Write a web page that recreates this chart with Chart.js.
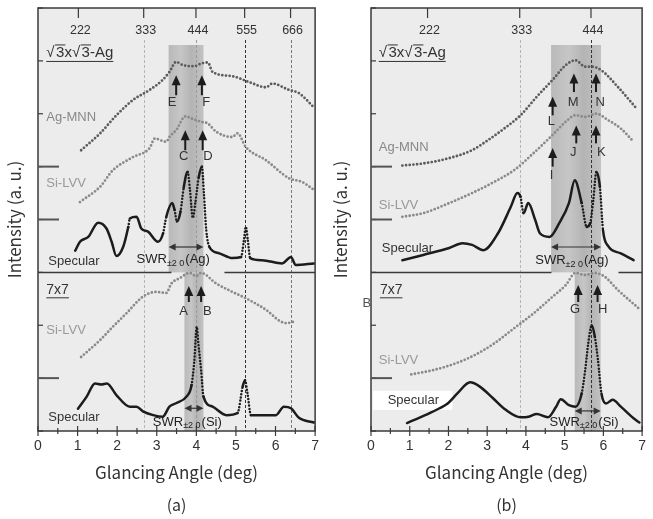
<!DOCTYPE html>
<html>
<head>
<meta charset="utf-8">
<script src="https://cdn.jsdelivr.net/npm/chart.js@4.4.0/dist/chart.umd.min.js"></script>
<style>
  html, body { margin: 0; padding: 0; background: #fff; }
  #wrap { position: relative; width: 653px; height: 519px; }
  #chartA { position: absolute; left: 0; top: 0; }
  #chartB { position: absolute; left: 326px; top: 0; }
</style>
</head>
<body>
<div id="wrap">
  <canvas id="chartA" width="326" height="519"></canvas>
  <canvas id="chartB" width="327" height="519"></canvas>
</div>
<script>
// ---- data (a) : sqrt3 x sqrt3-Ag (top) and 7x7 (bottom) ----
const aAgMnnX = [1.09, 1.57, 1.98, 2.40, 2.82, 3.15, 3.32, 3.49, 3.66, 3.95, 4.12, 4.29, 4.41, 4.91, 5.33, 5.76, 5.92, 6.34, 6.59, 6.97];
const aAgMnnY = [5.31, 5.63, 5.97, 6.26, 6.45, 6.64, 6.79, 6.98, 6.92, 6.90, 6.95, 6.97, 6.79, 6.71, 6.60, 6.50, 6.57, 6.45, 6.39, 6.12];

const aSiTopX = [1.06, 1.57, 1.89, 2.40, 2.82, 2.95, 3.24, 3.32, 3.50, 3.72, 3.91, 4.16, 4.28, 4.50, 4.91, 5.04, 5.25, 5.76, 6.34, 6.67, 6.97];
const aSiTopY = [4.33, 4.62, 4.93, 5.18, 5.35, 5.53, 5.47, 5.56, 5.70, 5.95, 5.90, 5.84, 5.82, 5.66, 5.56, 5.63, 5.37, 5.12, 4.78, 4.71, 4.56];

const aSpecTopX = [0.94, 1.06, 1.27, 1.52, 1.73, 1.86, 1.98, 2.15, 2.28, 2.32, 2.49, 2.61, 2.78, 3.03, 3.16, 3.24, 3.39, 3.45, 3.51, 3.60, 3.68, 3.78, 3.84, 3.91, 3.98, 4.06, 4.14, 4.19, 4.25, 4.33, 4.58, 4.91, 5.13, 5.20, 5.25, 5.30, 5.36, 5.66, 6.17, 6.39, 6.51, 6.97];
const aSpecTopY = [3.41, 3.58, 3.67, 3.94, 3.83, 3.58, 3.31, 3.48, 3.86, 4.02, 4.05, 3.83, 3.77, 3.58, 3.74, 4.05, 4.31, 4.18, 3.96, 4.15, 4.60, 4.90, 4.55, 4.03, 4.35, 4.80, 5.00, 4.50, 3.80, 3.48, 3.36, 3.27, 3.29, 3.60, 3.86, 3.61, 3.27, 3.23, 3.17, 3.29, 3.14, 3.17];

const aSiBotX = [1.09, 1.57, 1.89, 2.24, 2.65, 2.99, 3.24, 3.37, 3.58, 3.83, 3.99, 4.12, 4.50, 4.91, 5.25, 5.76, 6.13, 6.29, 6.47];
const aSiBotY = [1.40, 1.72, 1.97, 2.23, 2.54, 2.63, 2.61, 2.79, 2.89, 2.99, 2.93, 2.99, 2.79, 2.63, 2.51, 2.29, 2.07, 2.04, 2.07];

const aSpecBotX = [1.01, 1.23, 1.44, 1.60, 1.74, 1.98, 2.32, 2.49, 2.65, 2.91, 3.15, 3.32, 3.50, 3.75, 3.88, 3.95, 4.01, 4.05, 4.12, 4.18, 4.41, 4.76, 5.04, 5.17, 5.23, 5.29, 5.38, 5.76, 6.01, 6.21, 6.39, 6.59, 6.97];
const aSpecBotY = [0.42, 0.65, 0.90, 0.88, 0.90, 0.68, 0.46, 0.46, 0.37, 0.30, 0.27, 0.46, 0.53, 0.65, 0.87, 1.34, 1.97, 1.66, 1.15, 0.65, 0.46, 0.30, 0.34, 0.84, 0.96, 0.72, 0.30, 0.30, 0.30, 0.46, 0.43, 0.25, 0.16];

// ---- data (b) ----
const bAgMnnX = [0.81, 1.35, 2.02, 2.61, 3.02, 3.44, 3.86, 4.28, 4.69, 5.03, 5.28, 5.53, 5.70, 5.95, 6.37, 6.82];
const bAgMnnY = [5.02, 5.06, 5.16, 5.31, 5.50, 5.72, 5.97, 6.32, 6.64, 6.92, 7.01, 6.89, 6.89, 6.82, 6.51, 6.13];

const bSiTopX = [0.81, 1.35, 2.02, 2.61, 3.18, 3.69, 4.19, 4.69, 5.03, 5.28, 5.53, 5.82, 6.12, 6.45, 6.78];
const bSiTopY = [4.05, 4.12, 4.31, 4.50, 4.71, 4.93, 5.25, 5.60, 5.85, 5.97, 5.94, 6.00, 5.88, 5.72, 5.47];

const bSpecTopX = [0.81, 1.35, 2.02, 2.36, 2.61, 2.90, 3.28, 3.61, 3.78, 3.86, 3.94, 4.06, 4.24, 4.36, 4.61, 4.86, 5.11, 5.26, 5.44, 5.57, 5.66, 5.74, 5.82, 5.91, 5.99, 6.12, 6.45, 6.78];
const bSpecTopY = [3.23, 3.33, 3.46, 3.55, 3.52, 3.42, 3.74, 4.24, 4.50, 4.43, 4.12, 4.31, 3.99, 3.74, 3.67, 3.93, 4.31, 4.74, 4.31, 3.86, 3.93, 4.37, 4.90, 4.62, 3.80, 3.50, 3.36, 3.23];

const bSiBotX = [1.04, 1.60, 2.19, 2.69, 3.19, 3.69, 4.19, 4.69, 5.03, 5.28, 5.53, 5.78, 6.03, 6.37, 6.91];
const bSiBotY = [1.07, 1.15, 1.28, 1.44, 1.66, 1.94, 2.22, 2.54, 2.76, 2.99, 2.95, 2.99, 2.92, 2.67, 2.32];

const bSpecBotX = [0.93, 1.40, 1.77, 1.98, 2.23, 2.56, 2.81, 3.15, 3.48, 3.86, 4.07, 4.28, 4.57, 4.78, 4.90, 5.11, 5.28, 5.44, 5.53, 5.61, 5.70, 5.78, 5.86, 5.95, 6.07, 6.24, 6.45, 6.78, 6.93];
const bSpecBotY = [0.15, 0.30, 0.43, 0.52, 0.71, 0.92, 0.84, 0.62, 0.40, 0.26, 0.27, 0.32, 0.26, 0.46, 0.60, 0.49, 0.46, 0.71, 1.15, 1.66, 2.00, 1.78, 1.34, 0.71, 0.52, 0.59, 0.46, 0.24, 0.16];

// top axis (Bragg indices) and y axis ticks
const aTopLabels = ['222', '333', '444', '555', '666'];
const aTopPos = [1.02, 2.67, 3.99, 5.22, 6.38];
const bTopLabels = ['222', '333', '444'];
const bTopPos = [1.46, 3.84, 5.68];
const yTicks = [0, 1, 2, 3, 4, 5, 6, 7, 8];
const markerTicks = [1, 4, 5];

const FONT = '"Liberation Sans", Arial, sans-serif';
const JFONT = '"Noto Sans CJK JP", "Noto Sans", sans-serif';

function pts(xs, ys) {
    return xs.map((x, i) => ({ x, y: ys[i] }));
}

// steep parts of the specular curves are drawn dotted, like the measured points
function steep(c) {
    const dx = c.p1.parsed.x - c.p0.parsed.x;
    const dy = c.p1.parsed.y - c.p0.parsed.y;
    return Math.abs(dy / dx) > 3.4;
}

function dotted(data, color) {
    return {
        data, borderColor: color, borderWidth: 2.8, borderDash: [0, 3.7],
        borderCapStyle: 'round', pointRadius: 0, cubicInterpolationMode: 'monotone', fill: false
    };
}

function specular(data) {
    return {
        data, borderColor: '#1c1c1c', borderWidth: 2.5, borderCapStyle: 'round',
        borderJoinStyle: 'round', pointRadius: 0, cubicInterpolationMode: 'monotone', fill: false,
        segment: { borderDash: c => steep(c) ? [0, 3.2] : undefined }
    };
}

function arrowUp(ctx, x, yTip, yTail) {
    ctx.strokeStyle = '#1c1c1c';
    ctx.fillStyle = '#1c1c1c';
    ctx.lineWidth = 2;
    ctx.beginPath();
    ctx.moveTo(x, yTail);
    ctx.lineTo(x, yTip + 6);
    ctx.stroke();
    ctx.beginPath();
    ctx.moveTo(x, yTip);
    ctx.lineTo(x - 4.5, yTip + 10);
    ctx.lineTo(x + 4.5, yTip + 10);
    ctx.closePath();
    ctx.fill();
}

function doubleArrow(ctx, x1, x2, y) {
    ctx.strokeStyle = '#333';
    ctx.fillStyle = '#333';
    ctx.lineWidth = 1.2;
    ctx.beginPath();
    ctx.moveTo(x1 + 3, y);
    ctx.lineTo(x2 - 3, y);
    ctx.stroke();
    [[x1, 1], [x2, -1]].forEach(([x, d]) => {
        ctx.beginPath();
        ctx.moveTo(x, y);
        ctx.lineTo(x + d * 7, y - 3.5);
        ctx.lineTo(x + d * 7, y + 3.5);
        ctx.closePath();
        ctx.fill();
    });
}

function swrText(ctx, x, y, tail) {
    ctx.fillStyle = '#222';
    ctx.textAlign = 'left';
    ctx.textBaseline = 'middle';
    ctx.font = '13px ' + FONT;
    ctx.fillText('SWR', x, y);
    let w = ctx.measureText('SWR').width;
    ctx.font = '9px ' + FONT;
    ctx.fillText('\u00b12 0', x + w, y + 4);
    w += ctx.measureText('\u00b12 0').width + 1;
    ctx.font = '13px ' + FONT;
    ctx.fillText(tail, x + w, y);
}

function rootLabel(ctx, x, y) {
    ctx.font = '15px ' + FONT;
    ctx.fillStyle = '#333';
    ctx.textAlign = 'left';
    ctx.textBaseline = 'middle';
    const parts = ['\u221a', '3x', '\u221a', '3-Ag'];
    let cx = x;
    ctx.strokeStyle = '#333';
    ctx.lineWidth = 1;
    parts.forEach((p, i) => {
        ctx.fillText(p, cx, y);
        const w = ctx.measureText(p).width;
        if (i === 1 || i === 3) {
            const w3 = ctx.measureText('3').width;
            ctx.beginPath();
            ctx.moveTo(cx - 1, y - 8);
            ctx.lineTo(cx + w3 + 1, y - 8);
            ctx.stroke();
        }
        cx += w + (i === 0 || i === 2 ? 1.5 : 0);
    });
    ctx.beginPath();
    ctx.moveTo(x, y + 8.5);
    ctx.lineTo(cx, y + 8.5);
    ctx.stroke();
}

function underlined(ctx, text, x, y) {
    ctx.font = '14px ' + FONT;
    ctx.fillStyle = '#333';
    ctx.textAlign = 'left';
    ctx.textBaseline = 'middle';
    ctx.fillText(text, x, y);
    const w = ctx.measureText(text).width;
    ctx.strokeStyle = '#333';
    ctx.lineWidth = 1;
    ctx.beginPath();
    ctx.moveTo(x, y + 8);
    ctx.lineTo(x + w, y + 8);
    ctx.stroke();
}

function makeDecor(panel) {
    return {
        id: 'decor' + panel.tag,
        beforeDatasetsDraw(chart) {
            const { ctx, chartArea: a, scales: { x, y } } = chart;
            ctx.save();
            ctx.fillStyle = '#ececec';
            ctx.fillRect(a.left, a.top, a.right - a.left, a.bottom - a.top);

            // shaded SWR bands
            [[panel.bandTop, 7.30, 3], [panel.bandBot, 3, 0]].forEach(([b, y0, y1]) => {
                const l = x.getPixelForValue(b[0]);
                const r = x.getPixelForValue(b[1]);
                const t = y.getPixelForValue(y0);
                const bt = y.getPixelForValue(y1);
                const g = ctx.createLinearGradient(l, 0, r, 0);
                g.addColorStop(0, '#b9b9b9');
                g.addColorStop(0.35, '#c6c6c6');
                g.addColorStop(0.65, '#b4b4b4');
                g.addColorStop(1, '#c2c2c2');
                ctx.fillStyle = g;
                ctx.fillRect(l, t, r - l, bt - t);
            });

            // white box behind a label
            if (panel.whiteBox) {
                const wb = panel.whiteBox;
                const l = x.getPixelForValue(wb[0]);
                const r = x.getPixelForValue(wb[1]);
                const t = y.getPixelForValue(wb[2]);
                const bt = y.getPixelForValue(wb[3]);
                ctx.fillStyle = '#fff';
                ctx.fillRect(l, t, r - l, bt - t);
            }

            // dashed reflection lines
            ctx.lineWidth = 1;
            ctx.setLineDash([3, 2]);
            panel.dashes.forEach(d => {
                const px = Math.round(x.getPixelForValue(d.x)) + 0.5;
                ctx.strokeStyle = d.color;
                ctx.beginPath();
                ctx.moveTo(px, a.top + 32);
                ctx.lineTo(px, a.bottom);
                ctx.stroke();
            });
            ctx.setLineDash([]);
            ctx.restore();
        },
        afterDatasetsDraw(chart) {
            const { ctx, chartArea: a, scales: { x, y } } = chart;
            ctx.save();

            // frame
            ctx.strokeStyle = '#3a3a3a';
            ctx.lineWidth = 1.5;
            ctx.strokeRect(a.left, a.top, a.right - a.left, a.bottom - a.top);

            // separator between the two surfaces, open round the peaks
            const sy = y.getPixelForValue(3);
            ctx.beginPath();
            ctx.moveTo(a.left, sy);
            ctx.lineTo(x.getPixelForValue(panel.gap[0]), sy);
            ctx.moveTo(x.getPixelForValue(panel.gap[1]), sy);
            ctx.lineTo(a.right, sy);
            ctx.stroke();

            // left ticks
            ctx.lineWidth = 1.2;
            yTicks.forEach(v => {
                const py = y.getPixelForValue(v);
                ctx.beginPath();
                ctx.moveTo(a.left, py);
                ctx.lineTo(a.left + 5, py);
                ctx.stroke();
            });
            ctx.strokeStyle = '#555';
            ctx.lineWidth = 2;
            markerTicks.forEach(v => {
                const py = y.getPixelForValue(v);
                ctx.beginPath();
                ctx.moveTo(a.left, py);
                ctx.lineTo(a.left + 21, py);
                ctx.stroke();
            });

            // bottom ticks
            ctx.strokeStyle = '#3a3a3a';
            ctx.lineWidth = 1.2;
            for (let v = 0; v <= 7; v += 0.5) {
                const px = x.getPixelForValue(v);
                const len = Number.isInteger(v) ? 5 : 3;
                ctx.beginPath();
                ctx.moveTo(px, a.bottom - len);
                ctx.lineTo(px, a.bottom + len);
                ctx.stroke();
            }

            // top axis labels
            ctx.fillStyle = '#333';
            ctx.font = '12.5px ' + FONT;
            ctx.textAlign = 'center';
            ctx.textBaseline = 'middle';
            panel.topPos.forEach((v, i) => {
                const px = x.getPixelForValue(v);
                ctx.beginPath();
                ctx.moveTo(px, a.top);
                ctx.lineTo(px, a.top + 10);
                ctx.stroke();
                ctx.fillText(panel.topLabels[i], px + 2, a.top + 23);
            });

            // curve labels
            rootLabel(ctx, x.getPixelForValue(panel.rootAt[0]), y.getPixelForValue(panel.rootAt[1]));
            underlined(ctx, '7x7', x.getPixelForValue(panel.sevenAt[0]), y.getPixelForValue(panel.sevenAt[1]));
            ctx.font = '13px ' + FONT;
            ctx.textAlign = 'left';
            ctx.textBaseline = 'middle';
            panel.labels.forEach(l => {
                ctx.fillStyle = l.color;
                ctx.fillText(l.text, x.getPixelForValue(l.x), y.getPixelForValue(l.y));
            });

            // arrows with letters
            panel.arrows.forEach(ar => {
                const px = x.getPixelForValue(ar.x);
                arrowUp(ctx, px, y.getPixelForValue(ar.tip), y.getPixelForValue(ar.tail));
                ctx.fillStyle = '#333';
                ctx.font = '13px ' + FONT;
                ctx.textAlign = 'center';
                ctx.textBaseline = 'middle';
                ctx.fillText(ar.label, x.getPixelForValue(ar.lx), y.getPixelForValue(ar.ly));
            });

            // SWR widths
            panel.swr.forEach(s => {
                doubleArrow(ctx, x.getPixelForValue(s.x1), x.getPixelForValue(s.x2), y.getPixelForValue(s.y));
                swrText(ctx, x.getPixelForValue(s.tx), y.getPixelForValue(s.ty), s.tail);
            });

            // panel caption
            ctx.fillStyle = '#333';
            ctx.font = '16px ' + JFONT;
            ctx.textAlign = 'center';
            ctx.textBaseline = 'middle';
            ctx.fillText(panel.caption, (a.left + a.right) / 2, 505);
            ctx.restore();
        }
    };
}

function makeChart(canvasId, panel) {
    return new Chart(document.getElementById(canvasId), {
        type: 'line',
        data: { datasets: panel.datasets },
        options: {
            responsive: false,
            animation: false,
            events: [],
            layout: { padding: { left: 0, right: panel.padRight, top: 8, bottom: 32 } },
            plugins: { legend: { display: false }, tooltip: { enabled: false } },
            scales: {
                x: {
                    type: 'linear', min: 0, max: 7,
                    afterFit: s => { s.height = 56; },
                    ticks: { stepSize: 1, padding: 7, color: '#333', font: { family: FONT, size: 14 } },
                    grid: { display: false, drawTicks: false },
                    border: { display: false },
                    title: {
                        display: true, text: 'Glancing Angle (deg)', color: '#333',
                        font: { family: JFONT, size: 17 }, padding: { top: 4, bottom: 4 }
                    }
                },
                y: {
                    type: 'linear', min: 0, max: 8,
                    afterFit: s => { s.width = panel.yAxisW; },
                    ticks: { display: false },
                    grid: { display: false, drawTicks: false },
                    border: { display: false },
                    title: {
                        display: true, text: 'Intensity (a. u.)', color: '#333',
                        font: { family: JFONT, size: 17 }, padding: { top: 4, bottom: 4 }
                    }
                }
            }
        },
        plugins: [makeDecor(panel)]
    });
}

const panelA = {
    tag: 'A', caption: '(a)', padRight: 10, yAxisW: 38,
    datasets: [
        dotted(pts(aAgMnnX, aAgMnnY), '#5c5c5c'),
        dotted(pts(aSiTopX, aSiTopY), '#8a8a8a'),
        specular(pts(aSpecTopX, aSpecTopY)),
        dotted(pts(aSiBotX, aSiBotY), '#8a8a8a'),
        specular(pts(aSpecBotX, aSpecBotY))
    ],
    topLabels: aTopLabels, topPos: aTopPos,
    dashes: [
        { x: 2.67, color: '#b5b5b5' }, { x: 3.99, color: '#9a9a9a' },
        { x: 5.22, color: '#333' }, { x: 6.38, color: '#777' }
    ],
    bandTop: [3.30, 4.18], bandBot: [3.70, 4.18], gap: [3.37, 4.71],
    rootAt: [0.21, 7.15], sevenAt: [0.21, 2.67],
    labels: [
        { text: 'Ag-MNN', x: 0.21, y: 5.94, color: '#888' },
        { text: 'Si-LVV', x: 0.21, y: 4.69, color: '#999' },
        { text: 'Specular', x: 0.26, y: 3.21, color: '#333' },
        { text: 'Si-LVV', x: 0.21, y: 1.91, color: '#999' },
        { text: 'Specular', x: 0.26, y: 0.26, color: '#333' }
    ],
    arrows: [
        { label: 'E', x: 3.49, tip: 6.73, tail: 6.35, lx: 3.39, ly: 6.22 },
        { label: 'F', x: 4.14, tip: 6.73, tail: 6.35, lx: 4.25, ly: 6.22 },
        { label: 'C', x: 3.72, tip: 5.69, tail: 5.31, lx: 3.68, ly: 5.20 },
        { label: 'D', x: 4.16, tip: 5.69, tail: 5.31, lx: 4.29, ly: 5.20 },
        { label: 'A', x: 3.81, tip: 2.74, tail: 2.44, lx: 3.68, ly: 2.26 },
        { label: 'B', x: 4.12, tip: 2.74, tail: 2.44, lx: 4.28, ly: 2.26 }
    ],
    swr: [
        { x1: 3.30, x2: 4.18, y: 3.48, tx: 2.49, ty: 3.25, tail: '(Ag)' },
        { x1: 3.70, x2: 4.18, y: 0.43, tx: 2.90, ty: 0.17, tail: '(Si)' }
    ]
};

const panelB = {
    tag: 'B', caption: '(b)', padRight: 3, yAxisW: 45,
    datasets: [
        dotted(pts(bAgMnnX, bAgMnnY), '#5c5c5c'),
        dotted(pts(bSiTopX, bSiTopY), '#8a8a8a'),
        specular(pts(bSpecTopX, bSpecTopY)),
        dotted(pts(bSiBotX, bSiBotY), '#8a8a8a'),
        specular(pts(bSpecBotX, bSpecBotY))
    ],
    topLabels: bTopLabels, topPos: bTopPos,
    dashes: [{ x: 3.84, color: '#b5b5b5' }, { x: 5.68, color: '#333' }],
    bandTop: [4.65, 5.94], bandBot: [5.26, 5.93], gap: [4.66, 6.39],
    whiteBox: [0.05, 2.10, 0.76, 0.40],
    rootAt: [0.20, 7.15], sevenAt: [0.23, 2.67],
    labels: [
        { text: 'Ag-MNN', x: 0.20, y: 5.37, color: '#888' },
        { text: 'Si-LVV', x: 0.20, y: 4.27, color: '#999' },
        { text: 'Specular', x: 0.28, y: 3.46, color: '#333' },
        { text: 'Si-LVV', x: 0.20, y: 1.34, color: '#999' },
        { text: 'Specular', x: 0.43, y: 0.57, color: '#333' },
        { text: 'B', x: -0.22, y: 2.42, color: '#555' }
    ],
    arrows: [
        { label: 'L', x: 4.69, tip: 6.32, tail: 5.97, lx: 4.66, ly: 5.86 },
        { label: 'M', x: 5.24, tip: 6.76, tail: 6.41, lx: 5.22, ly: 6.22 },
        { label: 'N', x: 5.81, tip: 6.76, tail: 6.41, lx: 5.92, ly: 6.22 },
        { label: 'I', x: 4.69, tip: 5.35, tail: 5.00, lx: 4.66, ly: 4.84 },
        { label: 'J', x: 5.30, tip: 5.78, tail: 5.44, lx: 5.22, ly: 5.26 },
        { label: 'K', x: 5.81, tip: 5.78, tail: 5.44, lx: 5.95, ly: 5.26 },
        { label: 'G', x: 5.35, tip: 2.76, tail: 2.44, lx: 5.27, ly: 2.30 },
        { label: 'H', x: 5.85, tip: 2.76, tail: 2.44, lx: 5.98, ly: 2.30 }
    ],
    swr: [
        { x1: 4.65, x2: 5.94, y: 3.48, tx: 4.24, ty: 3.23, tail: '(Ag)' },
        { x1: 5.26, x2: 5.93, y: 0.38, tx: 4.61, ty: 0.17, tail: '(Si)' }
    ]
};

makeChart('chartA', panelA);
makeChart('chartB', panelB);
</script>
</body>
</html>
